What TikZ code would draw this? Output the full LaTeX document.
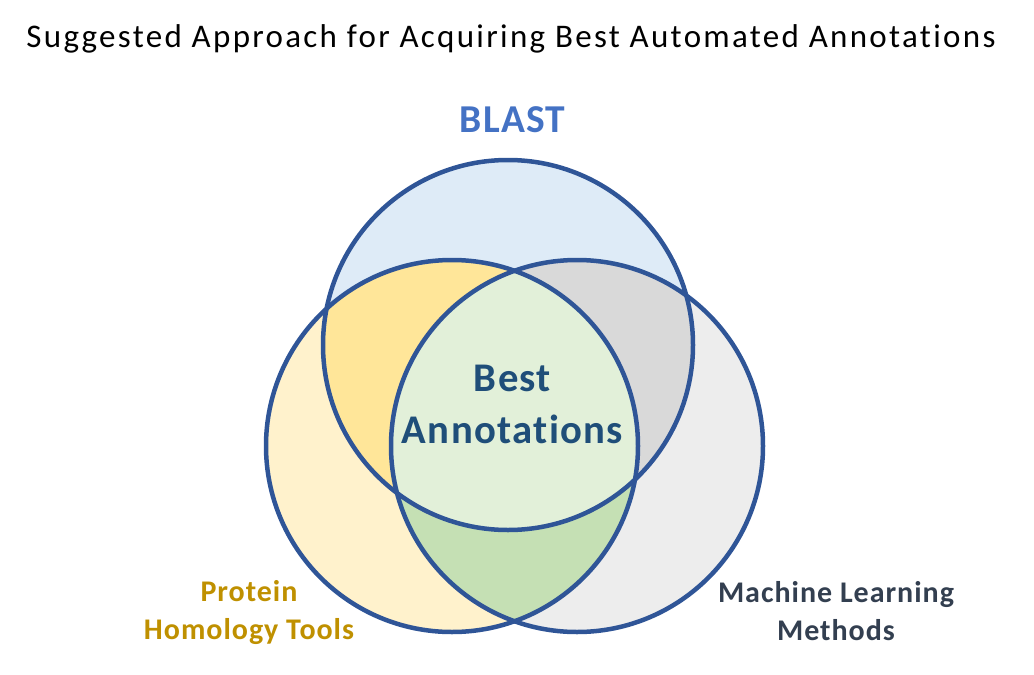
\documentclass[tikz,border=0pt]{standalone}
\usepackage{fontspec}
\setmainfont{Carlito}[Ligatures=NoCommon]
\newfontfamily\titlefont{Carlito}[LetterSpace=7, Ligatures=NoCommon]
\newfontfamily\setfont{Carlito}[LetterSpace=3.3, Ligatures=NoCommon]

\definecolor{ringblue}{HTML}{2F5597}
\definecolor{blastfill}{HTML}{DEEBF7}
\definecolor{homolfill}{HTML}{FFF2CC}
\definecolor{learnfill}{HTML}{EDEDED}
\definecolor{bhfill}{HTML}{FFE699}
\definecolor{blfill}{HTML}{D9D9D9}
\definecolor{hlfill}{HTML}{C5E0B4}
\definecolor{bestfill}{HTML}{E2F0D9}
\definecolor{blasttext}{HTML}{4472C4}
\definecolor{besttext}{HTML}{1F4E79}
\definecolor{homoltext}{HTML}{BF9000}
\definecolor{learntext}{HTML}{333F50}

\begin{document}
\begin{tikzpicture}[
      x = 1pt, y = -1pt, % one unit per pixel, y runs down
      ring/.style = {draw=ringblue, line width=4.5pt}, % circle outline
      setname/.style = {font=\setfont\bfseries\fontsize{30}{37.5}\selectfont, align=center, anchor=base} % base = last line
  ]

\useasboundingbox (0,0) rectangle (1034,675);

\coordinate (blast) at (508,345);
\coordinate (homol) at (452,446);
\coordinate (learn) at (577,446);

% one set only
\fill[blastfill] (blast) circle[radius=185pt];
\fill[homolfill] (homol) circle[radius=186pt];
\fill[learnfill] (learn) circle[radius=186pt];

% two sets
\begin{scope}
  \clip (blast) circle[radius=185pt];
  \fill[bhfill] (homol) circle[radius=186pt];
  \fill[blfill] (learn) circle[radius=186pt];
\end{scope}
\begin{scope}
  \clip (homol) circle[radius=186pt];
  \fill[hlfill] (learn) circle[radius=186pt];
  % all three
  \clip (blast) circle[radius=185pt];
  \fill[bestfill] (learn) circle[radius=186pt];
\end{scope}

\draw[ring] (blast) circle[radius=185pt];
\foreach \c in {homol, learn}
    \draw[ring] (\c) circle[radius=186pt];

\node[anchor=base, font=\titlefont\fontsize{33}{38}\selectfont] (title) at (511,47.3)
    {Suggested Approach for Acquiring Best Automated Annotations};

\node[setname, text=blasttext, font=\setfont\bfseries\fontsize{39.5}{46}\selectfont] (blastname) at (512.5,132.7) {BLAST};

\foreach \coord/\label/\col [count=\xi] in {
    {249,639}/{Protein\\Homology Tools}/homoltext,
    {836,640}/{Machine Learning\\Methods}/learntext%
}{
    \node[setname, text=\col] (set\xi) at (\coord) {\label};
}

\node[setname, text=besttext, font=\setfont\bfseries\fontsize{40.7}{51.3}\selectfont] (best) at (512.5,443)
    {Best\\Annotations};

\end{tikzpicture}
\end{document}
